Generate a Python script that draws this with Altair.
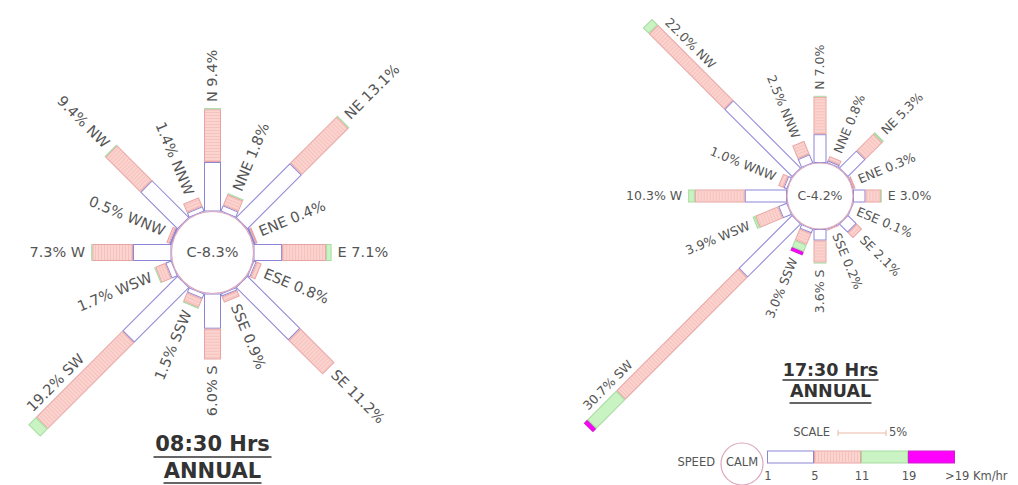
import math
import altair as alt
import pandas as pd

# ---------------- data ----------------
DIRECTIONS = ["N", "NNE", "NE", "ENE", "E", "ESE", "SE", "SSE",
              "S", "SSW", "SW", "WSW", "W", "WNW", "NW", "NNW"]
SPEED_CLASSES = ["1-5", "5-11", "11-19", ">19"]
SPEED_TICK_LABELS = ["1", "5", "11", "19", ">19 Km/hr"]

# 08:30 Hrs (percent of observations)
AM_TOTAL = [9.4, 1.8, 13.1, 0.4, 7.1, 0.8, 11.2, 0.9, 6.0, 1.5, 19.2, 1.7, 7.3, 0.5, 9.4, 1.4]
AM_1_5 = [4.5, 0.6, 7.0, 0.2, 2.6, 0.3, 6.8, 0.3, 3.2, 0.5, 7.1, 0.6, 3.5, 0.2, 4.8, 0.5]
AM_5_11 = [4.8, 1.1, 6.0, 0.2, 4.0, 0.5, 4.4, 0.6, 2.8, 0.9, 11.1, 1.0, 3.7, 0.3, 4.5, 0.9]
AM_11_19 = [0.1, 0.1, 0.1, 0.0, 0.5, 0.0, 0.0, 0.0, 0.0, 0.1, 1.0, 0.1, 0.1, 0.0, 0.1, 0.0]
AM_GT19 = [0.0] * 16
AM_CALM = 8.3

# 17:30 Hrs
PM_TOTAL = [7.0, 0.8, 5.3, 0.3, 3.0, 0.1, 2.1, 0.2, 3.6, 3.0, 30.7, 3.9, 10.3, 1.0, 22.0, 2.5]
PM_1_5 = [3.0, 0.3, 2.6, 0.1, 1.3, 0.1, 1.3, 0.1, 1.2, 0.5, 7.9, 1.0, 4.4, 0.4, 10.0, 1.0]
PM_5_11 = [3.9, 0.5, 2.5, 0.2, 1.6, 0.0, 0.8, 0.1, 2.3, 1.3, 18.0, 2.6, 5.2, 0.6, 11.1, 1.5]
PM_11_19 = [0.1, 0.0, 0.2, 0.0, 0.1, 0.0, 0.0, 0.0, 0.1, 0.8, 4.3, 0.3, 0.7, 0.0, 0.9, 0.0]
PM_GT19 = [0.0, 0.0, 0.0, 0.0, 0.0, 0.0, 0.0, 0.0, 0.0, 0.4, 0.5, 0.0, 0.0, 0.0, 0.0, 0.0]
PM_CALM = 4.2

TITLES = {"am": "08:30 Hrs", "pm": "17:30 Hrs"}
SUBTITLE = "ANNUAL"
SCALE_PCT = 5

# ---------------- layout / style (not data) ----------------
W, H = 1002, 477
LAYOUT = {
    "am": dict(cx=204.5, cy=244.5, r0=41, k=11.0, bar_w=17, fs=14.5, calm_fs=14.5, side=18,
               tx=204.5, ty=437, sy=463.5, tfs=21, ul_t=59, ul_s=49, ul_ty=449, ul_sy=475),
    "pm": dict(cx=812, cy=188, r0=33, k=9.6, bar_w=13, fs=12.5, calm_fs=12.5, side=16,
               tx=822.5, ty=363, sy=384, tfs=17.5, ul_t=48, ul_s=41, ul_ty=372, ul_sy=395),
}
BESIDE = {("pm", "NW"), ("pm", "SW"), ("am", "SW")}
STROKE = {"1-5": "#8d86d6", "5-11": "#e8a4a4", "11-19": "#a6dba0", ">19": "#cc22cc"}
FILL = {"1-5": "#fefdff", "5-11": "#fbd3cf", "11-19": "#c9f3c2", ">19": "#ff00ff"}
HATCH = "#f6c2bd"
TEXT_C = "#555555"
FONT = "DejaVu Sans"

SERIES = {
    "am": (AM_TOTAL, [AM_1_5, AM_5_11, AM_11_19, AM_GT19], AM_CALM),
    "pm": (PM_TOTAL, [PM_1_5, PM_5_11, PM_11_19, PM_GT19], PM_CALM),
}

seg_rows, lab_rows, circ_rows, txt_rows, ul_rows = [], [], [], [], []


def add_seg(px1, py1, px2, py2, ux, uy, w, cls):
    length = math.hypot(px2 - px1, py2 - py1)
    seg_rows.append(dict(
        x=px1, y=py1, x2=px2, y2=py2,
        xi=px1 + ux, yi=py1 + uy, xi2=px2 - ux, yi2=py2 - uy,
        w=w, wi=w - 2, inner=length > 2.5, cls=cls,
        stroke=STROKE[cls], fill=FILL[cls]))


for p, (totals, classes, calm) in SERIES.items():
    L = LAYOUT[p]
    for i, d in enumerate(DIRECTIONS):
        b = math.radians(i * 22.5)
        sx, sy = math.sin(b), -math.cos(b)
        cum = 0.0
        for ci, cls in enumerate(SPEED_CLASSES):
            v = classes[ci][i]
            if v <= 0:
                continue
            r1 = L["r0"] + L["k"] * cum
            r2 = L["r0"] + L["k"] * (cum + v)
            add_seg(L["cx"] + r1 * sx, L["cy"] + r1 * sy,
                    L["cx"] + r2 * sx, L["cy"] + r2 * sy, sx, sy, L["bar_w"], cls)
            cum += v
        rend = L["r0"] + L["k"] * totals[i]
        deg = i * 22.5
        val = f"{totals[i]:.1f}%"
        if (p, d) in BESIDE:
            rr = rend - 12
            px, py = math.cos(b), math.sin(b)
            lab_rows.append(dict(x=L["cx"] + rr * sx + L["side"] * px,
                                 y=L["cy"] + rr * sy + L["side"] * py,
                                 ang=(deg + 90) % 360, text=f"{val} {d}", fs=L["fs"], al="left"))
        elif deg < 180:
            rr = rend + 6
            lab_rows.append(dict(x=L["cx"] + rr * sx, y=L["cy"] + rr * sy,
                                 ang=(deg - 90) % 360, text=f"{d} {val}", fs=L["fs"], al="left"))
        else:
            rr = rend + 6
            lab_rows.append(dict(x=L["cx"] + rr * sx, y=L["cy"] + rr * sy,
                                 ang=(deg + 90) % 360, text=f"{val} {d}", fs=L["fs"], al="right"))
    circ_rows.append(dict(x=L["cx"], y=L["cy"], size=(2 * L["r0"]) ** 2))
    txt_rows.append(dict(x=L["cx"], y=L["cy"], text=f"C-{calm:.1f}%", fs=L["calm_fs"],
                         bold=False, al="center"))
    txt_rows.append(dict(x=L["tx"], y=L["ty"], text=TITLES[p], fs=L["tfs"], bold=True, al="center"))
    txt_rows.append(dict(x=L["tx"], y=L["sy"], text=SUBTITLE, fs=L["tfs"], bold=True, al="center"))
    ul_rows.append(dict(x=L["tx"] - L["ul_t"], x2=L["tx"] + L["ul_t"], y=L["ul_ty"], y2=L["ul_ty"]))
    ul_rows.append(dict(x=L["tx"] - L["ul_s"], x2=L["tx"] + L["ul_s"], y=L["ul_sy"], y2=L["ul_sy"]))

# ---------------- legend ----------------
LX0, LY, LSEG, LW = 759, 449, 47.0, 13
for ci, cls in enumerate(SPEED_CLASSES):
    add_seg(LX0 + LSEG * ci, LY, LX0 + LSEG * (ci + 1), LY, 1, 0, LW, cls)
for ti, t in enumerate(SPEED_TICK_LABELS):
    if ti < len(SPEED_TICK_LABELS) - 1:
        txt_rows.append(dict(x=LX0 + LSEG * ti + 1, y=469, text=t, fs=11.5, bold=False, al="center"))
    else:
        txt_rows.append(dict(x=LX0 + LSEG * ti - 10, y=469, text=t, fs=11.5, bold=False, al="left"))
circ_rows.append(dict(x=734, y=456, size=42 ** 2))
txt_rows.append(dict(x=734, y=455, text="CALM", fs=11.5, bold=False, al="center"))
txt_rows.append(dict(x=707, y=455, text="SPEED", fs=11.5, bold=False, al="right"))
txt_rows.append(dict(x=822, y=425, text="SCALE", fs=11.5, bold=False, al="right"))
SCX = 830
scale_len = SCALE_PCT * LAYOUT["pm"]["k"]
txt_rows.append(dict(x=SCX + scale_len + 3, y=425, text=f"{SCALE_PCT}%", fs=11.5, bold=False, al="left"))
scale_rows = [dict(x=SCX, x2=SCX + scale_len, y=425, y2=425),
              dict(x=SCX, x2=SCX, y=422, y2=428),
              dict(x=SCX + scale_len, x2=SCX + scale_len, y=422, y2=428)]

seg = pd.DataFrame(seg_rows)
labs = pd.DataFrame(lab_rows)
circ = pd.DataFrame(circ_rows)
txt = pd.DataFrame(txt_rows)
uls = pd.DataFrame(ul_rows)
scl = pd.DataFrame(scale_rows)

xs = alt.Scale(domain=[0, W], nice=False, zero=False)
ys = alt.Scale(domain=[0, H], nice=False, zero=False, reverse=True)
X = lambda f: alt.X(f"{f}:Q", scale=xs, axis=None)
Y = lambda f: alt.Y(f"{f}:Q", scale=ys, axis=None)

outer = alt.Chart(seg).mark_rule(strokeCap="butt").encode(
    x=X("x"), y=Y("y"), x2="x2", y2="y2",
    color=alt.Color("stroke:N", scale=None),
    strokeWidth=alt.StrokeWidth("w:Q", scale=None))
inner = alt.Chart(seg).transform_filter("datum.inner").mark_rule(strokeCap="butt").encode(
    x=X("xi"), y=Y("yi"), x2="xi2", y2="yi2",
    color=alt.Color("fill:N", scale=None),
    strokeWidth=alt.StrokeWidth("wi:Q", scale=None))
hatch = alt.Chart(seg).transform_filter("datum.inner && datum.cls == '5-11'").mark_rule(
    strokeCap="butt", strokeDash=[1, 2], color=HATCH).encode(
    x=X("xi"), y=Y("yi"), x2="xi2", y2="yi2",
    strokeWidth=alt.StrokeWidth("wi:Q", scale=None))
circles = alt.Chart(circ).mark_point(shape="circle", fill="white", stroke="#dca6bd",
                                     strokeWidth=1.2, opacity=1, fillOpacity=1).encode(
    x=X("x"), y=Y("y"), size=alt.Size("size:Q", scale=None))


def labels(al):
    return alt.Chart(labs).transform_filter(f"datum.al == '{al}'").mark_text(
        align=al, baseline="middle", font=FONT, color=TEXT_C).encode(
        x=X("x"), y=Y("y"), text="text:N",
        angle=alt.Angle("ang:Q", scale=None), size=alt.Size("fs:Q", scale=None))


def texts(al, bold):
    return alt.Chart(txt).transform_filter(
        f"datum.al == '{al}' && datum.bold == {'true' if bold else 'false'}").mark_text(
        align=al, baseline="middle", font=FONT, color="#333333" if bold else TEXT_C,
        fontWeight="bold" if bold else "normal").encode(
        x=X("x"), y=Y("y"), text="text:N", size=alt.Size("fs:Q", scale=None))


underlines = alt.Chart(uls).mark_rule(color="#333333", strokeWidth=1.5).encode(
    x=X("x"), x2="x2", y=Y("y"), y2="y2")
scalebar = alt.Chart(scl).mark_rule(color="#e9b9a8", strokeWidth=1).encode(
    x=X("x"), x2="x2", y=Y("y"), y2="y2")

chart = alt.layer(
    outer, inner, hatch, circles, labels("left"), labels("right"),
    texts("center", False), texts("left", False), texts("right", False), texts("center", True),
    underlines, scalebar,
).properties(width=W, height=H, autosize=alt.AutoSizeParams(type="none"), padding=0
).configure_view(strokeWidth=0)

chart.save("out.html", embed_options={"renderer": "svg", "actions": False})
